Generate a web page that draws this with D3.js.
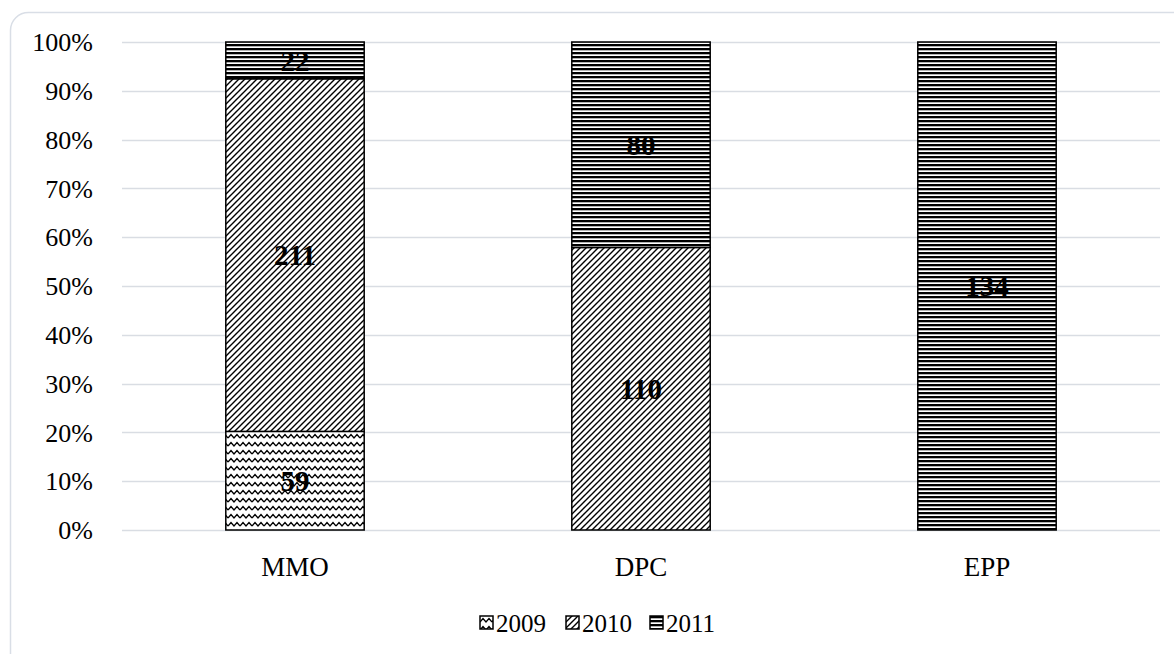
<!DOCTYPE html>
<html><head><meta charset="utf-8">
<script src="https://cdn.jsdelivr.net/npm/d3@7"></script>
<style>body{margin:0;background:#fff;}svg{display:block;font-family:"Liberation Serif","Times New Roman",serif;}</style>
</head><body>
<svg id="c" width="1174" height="654"></svg>
<script>
const categories = ["MMO", "DPC", "EPP"];
const seriesNames = ["2009", "2010", "2011"];
const v2009 = [59, 0, 0];
const v2010 = [211, 110, 0];
const v2011 = [22, 80, 134];
const yTicks = [0, 0.1, 0.2, 0.3, 0.4, 0.5, 0.6, 0.7, 0.8, 0.9, 1.0];

const svg = d3.select("#c");
const W = 1174, H = 654;
const m = {left: 122, right: 14, top: 42, bottom: 124};

// frame
svg.append("rect").attr("x", 10.5).attr("y", 12.5).attr("width", 1180).attr("height", 660)
  .attr("rx", 18).attr("fill", "#fff").attr("stroke", "#d9dee6").attr("stroke-width", 1.5);

const defs = svg.append("defs");
// wave pattern
const pw = defs.append("pattern").attr("id", "p2009").attr("patternUnits", "userSpaceOnUse")
  .attr("width", 12).attr("height", 8);
pw.append("rect").attr("width", 12).attr("height", 8).attr("fill", "#fff");
pw.append("path").attr("d", "M0,6 L3,2.5 L6,6 L9,2.5 L12,6").attr("fill", "none").attr("stroke", "#000").attr("stroke-width", 1.3);
// wide upward diagonal (dashed look)
const pd = defs.append("pattern").attr("id", "p2010").attr("patternUnits", "userSpaceOnUse")
  .attr("width", 6).attr("height", 6);
pd.append("rect").attr("width", 6).attr("height", 6).attr("fill", "#fff");
pd.append("path").attr("d", "M-1,7 L7,-1 M-1,1 L1,-1 M5,7 L7,5").attr("stroke", "#000").attr("stroke-width", 1.4);
// horizontal narrow
const ph = defs.append("pattern").attr("id", "p2011").attr("patternUnits", "userSpaceOnUse")
  .attr("width", 8).attr("height", 4);
ph.append("rect").attr("width", 8).attr("height", 4).attr("fill", "#fff");
ph.append("rect").attr("y", 0).attr("width", 8).attr("height", 2.3).attr("fill", "#000");

const x = d3.scaleBand().domain(categories).range([m.left, W - m.right]).paddingInner(0.6).paddingOuter(0.3);
const y = d3.scaleLinear().domain([0, 1]).range([H - m.bottom, m.top]);

// grid
svg.append("g").selectAll("line").data(yTicks).join("line")
  .attr("x1", m.left).attr("x2", W - m.right)
  .attr("y1", d => Math.round(y(d)) + 0.5).attr("y2", d => Math.round(y(d)) + 0.5)
  .attr("stroke", "#d9dde3").attr("stroke-width", 1.3);

// y labels
svg.append("g").selectAll("text").data(yTicks).join("text")
  .attr("x", 93).attr("y", d => y(d)).attr("dy", "0.35em").attr("text-anchor", "end")
  .attr("font-size", 26).attr("fill", "#000").text(d3.format(".0%"));

const table = categories.map((c, i) => ({cat: c, "2009": v2009[i], "2010": v2010[i], "2011": v2011[i]}));
const stacked = d3.stack().keys(seriesNames).offset(d3.stackOffsetExpand)(table);

stacked.forEach(s => {
  const g = svg.append("g");
  s.forEach((d, i) => {
    if (d.data[s.key] <= 0) return;
    g.append("rect").attr("x", x(d.data.cat)).attr("width", x.bandwidth())
      .attr("y", y(d[1])).attr("height", y(d[0]) - y(d[1]))
      .attr("fill", "url(#p" + s.key + ")").attr("stroke", "#000").attr("stroke-width", 1.5);
  });
});
stacked.forEach(s => {
  s.forEach(d => {
    if (d.data[s.key] <= 0) return;
    svg.append("text").attr("x", x(d.data.cat) + x.bandwidth() / 2).attr("y", y((d[0] + d[1]) / 2))
      .attr("dy", "0.35em").attr("text-anchor", "middle").attr("font-size", 29).attr("font-weight", "bold")
      .attr("fill", "#000").text(d.data[s.key]);
  });
});

// x labels
svg.append("g").selectAll("text").data(categories).join("text")
  .attr("x", d => x(d) + x.bandwidth() / 2).attr("y", 567).attr("dy", "0.35em")
  .attr("text-anchor", "middle").attr("font-size", 27).text(d => d);

// legend
const lx = [480, 566, 650];
seriesNames.forEach((s, i) => {
  svg.append("rect").attr("x", lx[i]).attr("y", 616).attr("width", 13).attr("height", 13)
    .attr("fill", "url(#p" + s + ")").attr("stroke", "#000").attr("stroke-width", 1.5);
  svg.append("text").attr("x", lx[i] + 16).attr("y", 623).attr("dy", "0.35em")
    .attr("font-size", 25).text(s);
});
</script>
</body></html>
